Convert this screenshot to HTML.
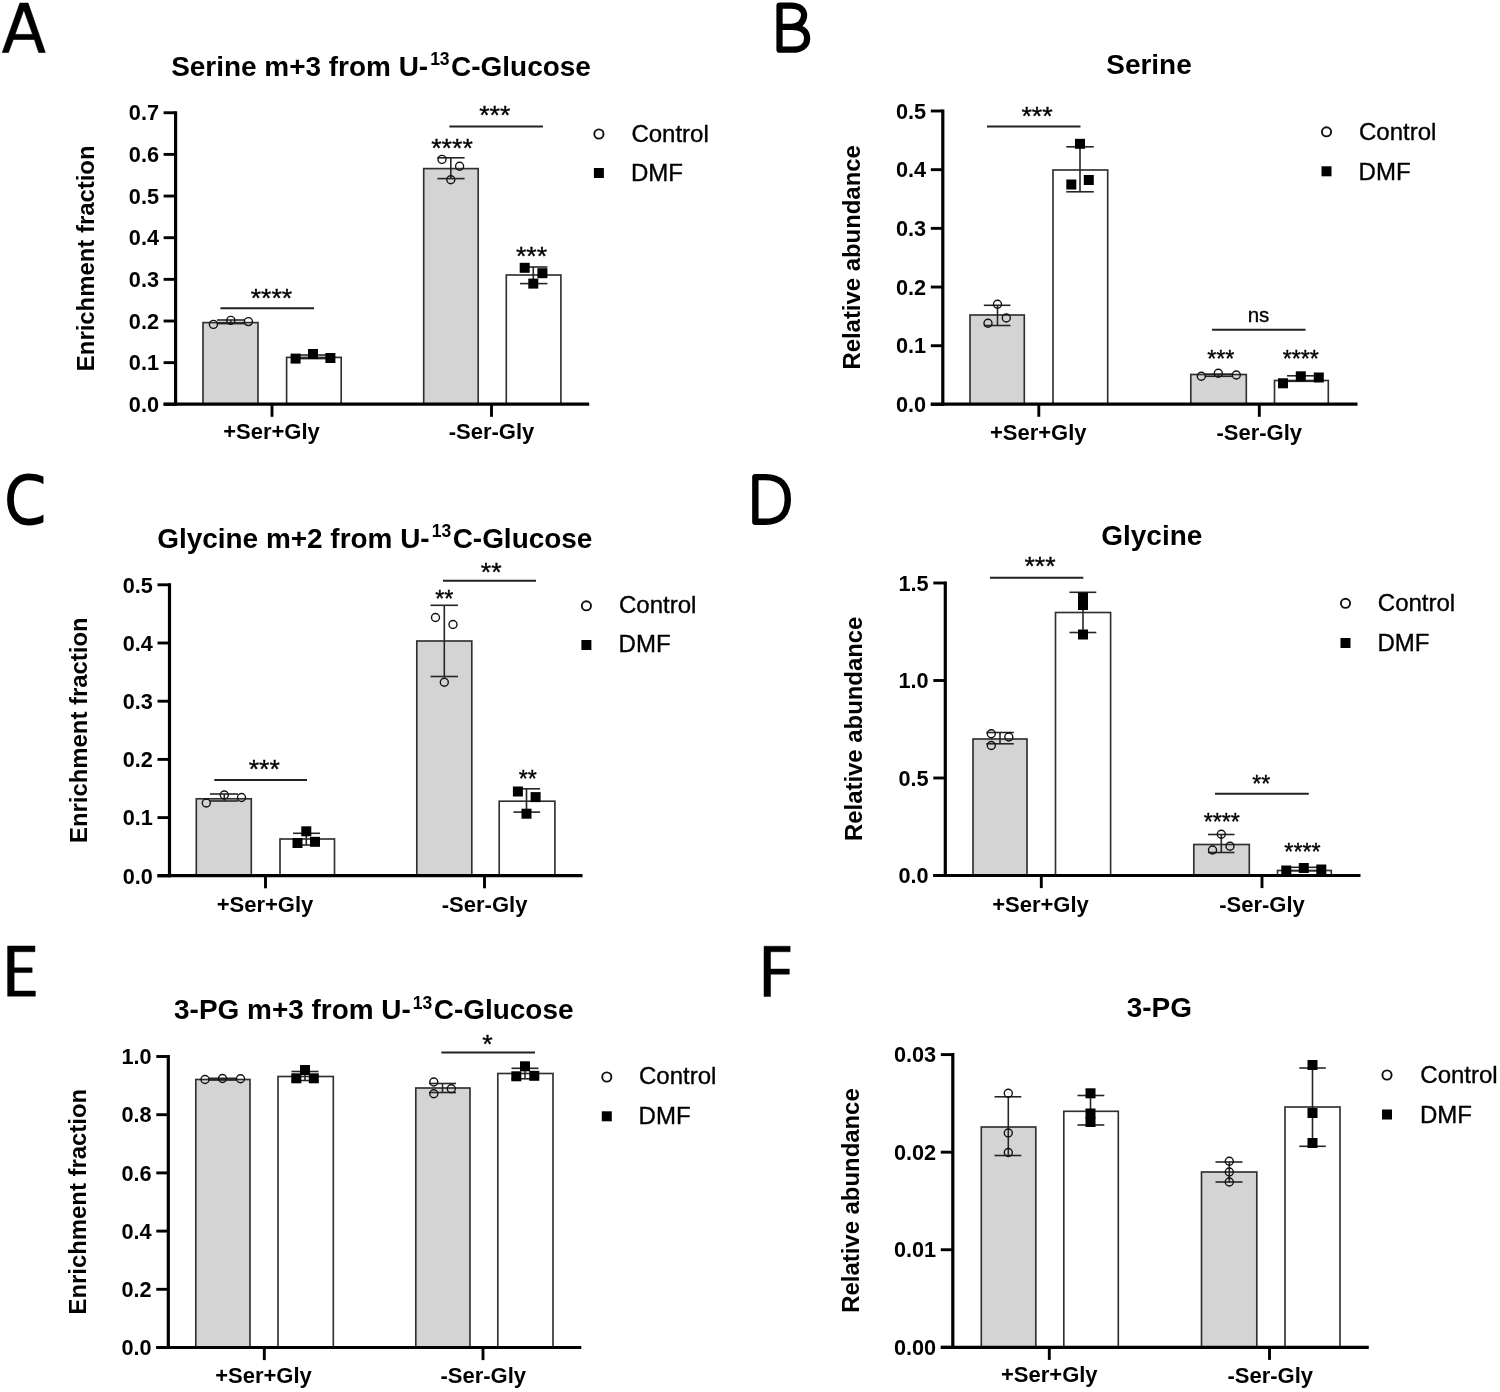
<!DOCTYPE html>
<html><head><meta charset="utf-8"><title>Figure</title>
<style>html,body{margin:0;padding:0;background:#fff;overflow:hidden;}svg{display:block;will-change:transform;filter:grayscale(1) blur(0.45px);}text{font-family:"Liberation Sans",sans-serif;}</style>
</head><body>
<svg width="1500" height="1392" viewBox="0 0 1500 1392">
<rect width="1500" height="1392" fill="#fff"/>
<rect x="203.00" y="322.60" width="55.00" height="81.60" fill="#d4d4d4" stroke="#303030" stroke-width="1.65"/>
<rect x="286.60" y="357.40" width="54.60" height="46.80" fill="#fff" stroke="#303030" stroke-width="1.65"/>
<rect x="423.70" y="168.60" width="54.50" height="235.60" fill="#d4d4d4" stroke="#303030" stroke-width="1.65"/>
<rect x="506.30" y="275.00" width="54.60" height="129.20" fill="#fff" stroke="#303030" stroke-width="1.65"/>
<line x1="175.60" y1="111.15" x2="175.60" y2="405.80" stroke="#000" stroke-width="3.2"/>
<line x1="163.60" y1="404.20" x2="589.20" y2="404.20" stroke="#000" stroke-width="3.2"/>
<line x1="163.60" y1="112.75" x2="175.60" y2="112.75" stroke="#000" stroke-width="2.9"/>
<text x="159.00" y="120.45" font-family="Liberation Sans, sans-serif" font-size="21.7" text-anchor="end" font-weight="bold" fill="#000" >0.7</text>
<line x1="163.60" y1="154.40" x2="175.60" y2="154.40" stroke="#000" stroke-width="2.9"/>
<text x="159.00" y="162.10" font-family="Liberation Sans, sans-serif" font-size="21.7" text-anchor="end" font-weight="bold" fill="#000" >0.6</text>
<line x1="163.60" y1="196.05" x2="175.60" y2="196.05" stroke="#000" stroke-width="2.9"/>
<text x="159.00" y="203.75" font-family="Liberation Sans, sans-serif" font-size="21.7" text-anchor="end" font-weight="bold" fill="#000" >0.5</text>
<line x1="163.60" y1="237.70" x2="175.60" y2="237.70" stroke="#000" stroke-width="2.9"/>
<text x="159.00" y="245.40" font-family="Liberation Sans, sans-serif" font-size="21.7" text-anchor="end" font-weight="bold" fill="#000" >0.4</text>
<line x1="163.60" y1="279.35" x2="175.60" y2="279.35" stroke="#000" stroke-width="2.9"/>
<text x="159.00" y="287.05" font-family="Liberation Sans, sans-serif" font-size="21.7" text-anchor="end" font-weight="bold" fill="#000" >0.3</text>
<line x1="163.60" y1="321.00" x2="175.60" y2="321.00" stroke="#000" stroke-width="2.9"/>
<text x="159.00" y="328.70" font-family="Liberation Sans, sans-serif" font-size="21.7" text-anchor="end" font-weight="bold" fill="#000" >0.2</text>
<line x1="163.60" y1="362.65" x2="175.60" y2="362.65" stroke="#000" stroke-width="2.9"/>
<text x="159.00" y="370.35" font-family="Liberation Sans, sans-serif" font-size="21.7" text-anchor="end" font-weight="bold" fill="#000" >0.1</text>
<line x1="163.60" y1="404.30" x2="175.60" y2="404.30" stroke="#000" stroke-width="2.9"/>
<text x="159.00" y="412.00" font-family="Liberation Sans, sans-serif" font-size="21.7" text-anchor="end" font-weight="bold" fill="#000" >0.0</text>
<line x1="272.00" y1="404.20" x2="272.00" y2="416.80" stroke="#000" stroke-width="2.9"/>
<line x1="491.50" y1="404.20" x2="491.50" y2="416.80" stroke="#000" stroke-width="2.9"/>
<text x="271.50" y="439.40" font-family="Liberation Sans, sans-serif" font-size="22" text-anchor="middle" font-weight="bold" fill="#000" >+Ser+Gly</text>
<text x="491.50" y="439.40" font-family="Liberation Sans, sans-serif" font-size="22" text-anchor="middle" font-weight="bold" fill="#000" >-Ser-Gly</text>
<text transform="translate(93.90 258.30) rotate(-90)" x="0" y="0" font-family="Liberation Sans, sans-serif" font-size="23.9" text-anchor="middle" font-weight="bold" fill="#000">Enrichment fraction</text>
<text x="381.00" y="75.50" font-family="Liberation Sans, sans-serif" font-size="27.95" text-anchor="middle" font-weight="bold" fill="#000" >Serine m+3 from U-<tspan font-size="17.5" dy="-10.5" dx="2">13</tspan><tspan dy="10.5" dx="1.5">C-Glucose</tspan></text>
<line x1="230.80" y1="320.00" x2="230.80" y2="323.60" stroke="#262626" stroke-width="1.6"/>
<line x1="217.00" y1="320.00" x2="245.00" y2="320.00" stroke="#262626" stroke-width="1.6"/>
<line x1="217.00" y1="323.60" x2="245.00" y2="323.60" stroke="#262626" stroke-width="1.6"/>
<line x1="313.00" y1="355.00" x2="313.00" y2="358.60" stroke="#262626" stroke-width="1.6"/>
<line x1="299.50" y1="355.00" x2="327.00" y2="355.00" stroke="#262626" stroke-width="1.6"/>
<line x1="299.50" y1="358.60" x2="327.00" y2="358.60" stroke="#262626" stroke-width="1.6"/>
<line x1="450.80" y1="157.80" x2="450.80" y2="178.60" stroke="#262626" stroke-width="1.6"/>
<line x1="437.40" y1="157.80" x2="464.60" y2="157.80" stroke="#262626" stroke-width="1.6"/>
<line x1="437.40" y1="178.60" x2="464.60" y2="178.60" stroke="#262626" stroke-width="1.6"/>
<line x1="533.30" y1="267.00" x2="533.30" y2="283.60" stroke="#262626" stroke-width="1.6"/>
<line x1="520.00" y1="267.00" x2="547.40" y2="267.00" stroke="#262626" stroke-width="1.6"/>
<line x1="520.00" y1="283.60" x2="547.40" y2="283.60" stroke="#262626" stroke-width="1.6"/>
<circle cx="213.40" cy="324.40" r="4" fill="none" stroke="#111" stroke-width="1.4"/>
<circle cx="230.80" cy="320.40" r="4" fill="none" stroke="#111" stroke-width="1.4"/>
<circle cx="248.40" cy="321.60" r="4" fill="none" stroke="#111" stroke-width="1.4"/>
<circle cx="442.00" cy="159.40" r="4" fill="none" stroke="#111" stroke-width="1.4"/>
<circle cx="459.60" cy="166.20" r="4" fill="none" stroke="#111" stroke-width="1.4"/>
<circle cx="450.80" cy="179.80" r="4" fill="none" stroke="#111" stroke-width="1.4"/>
<rect x="290.60" y="353.60" width="10" height="10" fill="#000"/>
<rect x="308.00" y="349.00" width="10" height="10" fill="#000"/>
<rect x="325.40" y="353.00" width="10" height="10" fill="#000"/>
<rect x="519.70" y="262.80" width="10" height="10" fill="#000"/>
<rect x="537.40" y="268.20" width="10" height="10" fill="#000"/>
<rect x="528.30" y="278.60" width="10" height="10" fill="#000"/>
<line x1="220.40" y1="308.20" x2="314.00" y2="308.20" stroke="#222" stroke-width="2.0"/>
<text x="271.40" y="307.02" font-family="Liberation Sans, sans-serif" font-size="26.7" text-anchor="middle" stroke="#000" stroke-width="0.35" fill="#000" >****</text>
<line x1="449.40" y1="126.50" x2="542.90" y2="126.50" stroke="#222" stroke-width="2.0"/>
<text x="494.80" y="123.62" font-family="Liberation Sans, sans-serif" font-size="26.7" text-anchor="middle" stroke="#000" stroke-width="0.35" fill="#000" >***</text>
<text x="452.00" y="157.02" font-family="Liberation Sans, sans-serif" font-size="26.7" text-anchor="middle" stroke="#000" stroke-width="0.35" fill="#000" >****</text>
<text x="531.50" y="265.42" font-family="Liberation Sans, sans-serif" font-size="26.7" text-anchor="middle" stroke="#000" stroke-width="0.35" fill="#000" >***</text>
<circle cx="598.90" cy="134.00" r="4.6" fill="#fff" stroke="#111" stroke-width="1.9"/>
<rect x="593.90" y="168.00" width="10" height="10" fill="#000"/>
<text x="631.40" y="141.80" font-family="Liberation Sans, sans-serif" font-size="24" text-anchor="start" stroke="#000" stroke-width="0.35" fill="#000" >Control</text>
<text x="631.00" y="180.80" font-family="Liberation Sans, sans-serif" font-size="24" text-anchor="start" stroke="#000" stroke-width="0.35" fill="#000" >DMF</text>
<rect x="970.00" y="315.00" width="54.30" height="89.20" fill="#d4d4d4" stroke="#303030" stroke-width="1.65"/>
<rect x="1053.00" y="170.00" width="54.70" height="234.20" fill="#fff" stroke="#303030" stroke-width="1.65"/>
<rect x="1190.80" y="374.50" width="55.50" height="29.70" fill="#d4d4d4" stroke="#303030" stroke-width="1.65"/>
<rect x="1274.50" y="380.50" width="53.80" height="23.70" fill="#fff" stroke="#303030" stroke-width="1.65"/>
<line x1="942.80" y1="109.40" x2="942.80" y2="405.80" stroke="#000" stroke-width="3.2"/>
<line x1="930.80" y1="404.20" x2="1357.50" y2="404.20" stroke="#000" stroke-width="3.2"/>
<line x1="930.80" y1="111.00" x2="942.80" y2="111.00" stroke="#000" stroke-width="2.9"/>
<text x="926.20" y="118.70" font-family="Liberation Sans, sans-serif" font-size="21.7" text-anchor="end" font-weight="bold" fill="#000" >0.5</text>
<line x1="930.80" y1="169.68" x2="942.80" y2="169.68" stroke="#000" stroke-width="2.9"/>
<text x="926.20" y="177.38" font-family="Liberation Sans, sans-serif" font-size="21.7" text-anchor="end" font-weight="bold" fill="#000" >0.4</text>
<line x1="930.80" y1="228.36" x2="942.80" y2="228.36" stroke="#000" stroke-width="2.9"/>
<text x="926.20" y="236.06" font-family="Liberation Sans, sans-serif" font-size="21.7" text-anchor="end" font-weight="bold" fill="#000" >0.3</text>
<line x1="930.80" y1="287.04" x2="942.80" y2="287.04" stroke="#000" stroke-width="2.9"/>
<text x="926.20" y="294.74" font-family="Liberation Sans, sans-serif" font-size="21.7" text-anchor="end" font-weight="bold" fill="#000" >0.2</text>
<line x1="930.80" y1="345.72" x2="942.80" y2="345.72" stroke="#000" stroke-width="2.9"/>
<text x="926.20" y="353.42" font-family="Liberation Sans, sans-serif" font-size="21.7" text-anchor="end" font-weight="bold" fill="#000" >0.1</text>
<line x1="930.80" y1="404.40" x2="942.80" y2="404.40" stroke="#000" stroke-width="2.9"/>
<text x="926.20" y="412.10" font-family="Liberation Sans, sans-serif" font-size="21.7" text-anchor="end" font-weight="bold" fill="#000" >0.0</text>
<line x1="1038.80" y1="404.20" x2="1038.80" y2="416.80" stroke="#000" stroke-width="2.9"/>
<line x1="1259.30" y1="404.20" x2="1259.30" y2="416.80" stroke="#000" stroke-width="2.9"/>
<text x="1038.20" y="439.70" font-family="Liberation Sans, sans-serif" font-size="22" text-anchor="middle" font-weight="bold" fill="#000" >+Ser+Gly</text>
<text x="1259.20" y="439.90" font-family="Liberation Sans, sans-serif" font-size="22" text-anchor="middle" font-weight="bold" fill="#000" >-Ser-Gly</text>
<text transform="translate(859.50 257.40) rotate(-90)" x="0" y="0" font-family="Liberation Sans, sans-serif" font-size="23.9" text-anchor="middle" font-weight="bold" fill="#000">Relative abundance</text>
<text x="1149.00" y="73.70" font-family="Liberation Sans, sans-serif" font-size="27.95" text-anchor="middle" font-weight="bold" fill="#000" >Serine</text>
<line x1="997.50" y1="305.30" x2="997.50" y2="325.50" stroke="#262626" stroke-width="1.6"/>
<line x1="983.80" y1="305.30" x2="1010.50" y2="305.30" stroke="#262626" stroke-width="1.6"/>
<line x1="983.80" y1="325.50" x2="1010.50" y2="325.50" stroke="#262626" stroke-width="1.6"/>
<line x1="1080.00" y1="146.80" x2="1080.00" y2="191.80" stroke="#262626" stroke-width="1.6"/>
<line x1="1066.30" y1="146.80" x2="1093.80" y2="146.80" stroke="#262626" stroke-width="1.6"/>
<line x1="1066.30" y1="191.80" x2="1093.80" y2="191.80" stroke="#262626" stroke-width="1.6"/>
<line x1="1218.30" y1="374.20" x2="1218.30" y2="376.30" stroke="#262626" stroke-width="1.6"/>
<line x1="1205.00" y1="374.20" x2="1232.00" y2="374.20" stroke="#262626" stroke-width="1.6"/>
<line x1="1205.00" y1="376.30" x2="1232.00" y2="376.30" stroke="#262626" stroke-width="1.6"/>
<line x1="1300.80" y1="375.80" x2="1300.80" y2="381.30" stroke="#262626" stroke-width="1.6"/>
<line x1="1287.00" y1="375.80" x2="1314.50" y2="375.80" stroke="#262626" stroke-width="1.6"/>
<line x1="1287.00" y1="381.30" x2="1314.50" y2="381.30" stroke="#262626" stroke-width="1.6"/>
<circle cx="997.50" cy="304.30" r="4" fill="none" stroke="#111" stroke-width="1.4"/>
<circle cx="1006.30" cy="318.00" r="4" fill="none" stroke="#111" stroke-width="1.4"/>
<circle cx="988.00" cy="323.30" r="4" fill="none" stroke="#111" stroke-width="1.4"/>
<circle cx="1201.30" cy="376.30" r="4" fill="none" stroke="#111" stroke-width="1.4"/>
<circle cx="1218.30" cy="373.30" r="4" fill="none" stroke="#111" stroke-width="1.4"/>
<circle cx="1236.30" cy="375.00" r="4" fill="none" stroke="#111" stroke-width="1.4"/>
<rect x="1075.00" y="138.80" width="10" height="10" fill="#000"/>
<rect x="1066.30" y="179.50" width="10" height="10" fill="#000"/>
<rect x="1083.80" y="175.00" width="10" height="10" fill="#000"/>
<rect x="1278.00" y="378.30" width="10" height="10" fill="#000"/>
<rect x="1295.80" y="371.30" width="10" height="10" fill="#000"/>
<rect x="1313.80" y="372.50" width="10" height="10" fill="#000"/>
<line x1="987.00" y1="126.50" x2="1080.50" y2="126.50" stroke="#222" stroke-width="2.0"/>
<text x="1037.00" y="124.62" font-family="Liberation Sans, sans-serif" font-size="26.7" text-anchor="middle" stroke="#000" stroke-width="0.35" fill="#000" >***</text>
<line x1="1212.00" y1="329.80" x2="1305.50" y2="329.80" stroke="#222" stroke-width="2.0"/>
<text x="1258.50" y="322.00" font-family="Liberation Sans, sans-serif" font-size="20.5" text-anchor="middle" stroke="#000" stroke-width="0.35" fill="#000" >ns</text>
<text x="1220.80" y="366.53" font-family="Liberation Sans, sans-serif" font-size="23.3" text-anchor="middle" stroke="#000" stroke-width="0.35" fill="#000" >***</text>
<text x="1300.80" y="366.53" font-family="Liberation Sans, sans-serif" font-size="23.3" text-anchor="middle" stroke="#000" stroke-width="0.35" fill="#000" >****</text>
<circle cx="1326.50" cy="131.80" r="4.6" fill="#fff" stroke="#111" stroke-width="1.9"/>
<rect x="1321.50" y="166.30" width="10" height="10" fill="#000"/>
<text x="1359.00" y="139.90" font-family="Liberation Sans, sans-serif" font-size="24" text-anchor="start" stroke="#000" stroke-width="0.35" fill="#000" >Control</text>
<text x="1358.60" y="179.90" font-family="Liberation Sans, sans-serif" font-size="24" text-anchor="start" stroke="#000" stroke-width="0.35" fill="#000" >DMF</text>
<rect x="196.30" y="798.80" width="55.00" height="76.90" fill="#d4d4d4" stroke="#303030" stroke-width="1.65"/>
<rect x="280.00" y="839.00" width="54.50" height="36.70" fill="#fff" stroke="#303030" stroke-width="1.65"/>
<rect x="416.80" y="641.00" width="55.00" height="234.70" fill="#d4d4d4" stroke="#303030" stroke-width="1.65"/>
<rect x="499.20" y="801.20" width="55.70" height="74.50" fill="#fff" stroke="#303030" stroke-width="1.65"/>
<line x1="169.50" y1="583.20" x2="169.50" y2="877.30" stroke="#000" stroke-width="3.2"/>
<line x1="157.50" y1="875.70" x2="582.50" y2="875.70" stroke="#000" stroke-width="3.2"/>
<line x1="157.50" y1="584.80" x2="169.50" y2="584.80" stroke="#000" stroke-width="2.9"/>
<text x="152.90" y="592.50" font-family="Liberation Sans, sans-serif" font-size="21.7" text-anchor="end" font-weight="bold" fill="#000" >0.5</text>
<line x1="157.50" y1="643.00" x2="169.50" y2="643.00" stroke="#000" stroke-width="2.9"/>
<text x="152.90" y="650.70" font-family="Liberation Sans, sans-serif" font-size="21.7" text-anchor="end" font-weight="bold" fill="#000" >0.4</text>
<line x1="157.50" y1="701.20" x2="169.50" y2="701.20" stroke="#000" stroke-width="2.9"/>
<text x="152.90" y="708.90" font-family="Liberation Sans, sans-serif" font-size="21.7" text-anchor="end" font-weight="bold" fill="#000" >0.3</text>
<line x1="157.50" y1="759.40" x2="169.50" y2="759.40" stroke="#000" stroke-width="2.9"/>
<text x="152.90" y="767.10" font-family="Liberation Sans, sans-serif" font-size="21.7" text-anchor="end" font-weight="bold" fill="#000" >0.2</text>
<line x1="157.50" y1="817.60" x2="169.50" y2="817.60" stroke="#000" stroke-width="2.9"/>
<text x="152.90" y="825.30" font-family="Liberation Sans, sans-serif" font-size="21.7" text-anchor="end" font-weight="bold" fill="#000" >0.1</text>
<line x1="157.50" y1="875.80" x2="169.50" y2="875.80" stroke="#000" stroke-width="2.9"/>
<text x="152.90" y="883.50" font-family="Liberation Sans, sans-serif" font-size="21.7" text-anchor="end" font-weight="bold" fill="#000" >0.0</text>
<line x1="265.50" y1="875.70" x2="265.50" y2="888.30" stroke="#000" stroke-width="2.9"/>
<line x1="484.50" y1="875.70" x2="484.50" y2="888.30" stroke="#000" stroke-width="2.9"/>
<text x="265.00" y="911.70" font-family="Liberation Sans, sans-serif" font-size="22" text-anchor="middle" font-weight="bold" fill="#000" >+Ser+Gly</text>
<text x="484.60" y="912.20" font-family="Liberation Sans, sans-serif" font-size="22" text-anchor="middle" font-weight="bold" fill="#000" >-Ser-Gly</text>
<text transform="translate(86.70 730.20) rotate(-90)" x="0" y="0" font-family="Liberation Sans, sans-serif" font-size="23.9" text-anchor="middle" font-weight="bold" fill="#000">Enrichment fraction</text>
<text x="374.80" y="547.70" font-family="Liberation Sans, sans-serif" font-size="27.95" text-anchor="middle" font-weight="bold" fill="#000" >Glycine m+2 from U-<tspan font-size="17.5" dy="-10.5" dx="2">13</tspan><tspan dy="10.5" dx="1.5">C-Glucose</tspan></text>
<line x1="224.30" y1="794.00" x2="224.30" y2="801.00" stroke="#262626" stroke-width="1.6"/>
<line x1="210.00" y1="794.00" x2="238.00" y2="794.00" stroke="#262626" stroke-width="1.6"/>
<line x1="210.00" y1="801.00" x2="238.00" y2="801.00" stroke="#262626" stroke-width="1.6"/>
<line x1="306.30" y1="833.30" x2="306.30" y2="845.00" stroke="#262626" stroke-width="1.6"/>
<line x1="293.00" y1="833.30" x2="320.00" y2="833.30" stroke="#262626" stroke-width="1.6"/>
<line x1="293.00" y1="845.00" x2="320.00" y2="845.00" stroke="#262626" stroke-width="1.6"/>
<line x1="444.30" y1="605.30" x2="444.30" y2="676.50" stroke="#262626" stroke-width="1.6"/>
<line x1="430.50" y1="605.30" x2="458.00" y2="605.30" stroke="#262626" stroke-width="1.6"/>
<line x1="430.50" y1="676.50" x2="458.00" y2="676.50" stroke="#262626" stroke-width="1.6"/>
<line x1="526.50" y1="788.80" x2="526.50" y2="812.10" stroke="#262626" stroke-width="1.6"/>
<line x1="513.40" y1="788.80" x2="540.10" y2="788.80" stroke="#262626" stroke-width="1.6"/>
<line x1="513.40" y1="812.10" x2="540.10" y2="812.10" stroke="#262626" stroke-width="1.6"/>
<circle cx="206.30" cy="803.00" r="4" fill="none" stroke="#111" stroke-width="1.4"/>
<circle cx="224.30" cy="795.00" r="4" fill="none" stroke="#111" stroke-width="1.4"/>
<circle cx="241.50" cy="797.50" r="4" fill="none" stroke="#111" stroke-width="1.4"/>
<circle cx="435.50" cy="617.50" r="4" fill="none" stroke="#111" stroke-width="1.4"/>
<circle cx="453.00" cy="624.50" r="4" fill="none" stroke="#111" stroke-width="1.4"/>
<circle cx="444.30" cy="682.30" r="4" fill="none" stroke="#111" stroke-width="1.4"/>
<rect x="301.30" y="826.30" width="10" height="10" fill="#000"/>
<rect x="292.50" y="838.00" width="10" height="10" fill="#000"/>
<rect x="310.00" y="836.80" width="10" height="10" fill="#000"/>
<rect x="512.90" y="786.50" width="10" height="10" fill="#000"/>
<rect x="530.60" y="792.10" width="10" height="10" fill="#000"/>
<rect x="521.50" y="808.70" width="10" height="10" fill="#000"/>
<line x1="214.30" y1="780.00" x2="307.00" y2="780.00" stroke="#222" stroke-width="2.0"/>
<text x="264.30" y="778.42" font-family="Liberation Sans, sans-serif" font-size="26.7" text-anchor="middle" stroke="#000" stroke-width="0.35" fill="#000" >***</text>
<line x1="443.00" y1="580.80" x2="536.00" y2="580.80" stroke="#222" stroke-width="2.0"/>
<text x="491.20" y="580.62" font-family="Liberation Sans, sans-serif" font-size="26.7" text-anchor="middle" stroke="#000" stroke-width="0.35" fill="#000" >**</text>
<text x="444.30" y="607.03" font-family="Liberation Sans, sans-serif" font-size="23.3" text-anchor="middle" stroke="#000" stroke-width="0.35" fill="#000" >**</text>
<text x="527.70" y="787.13" font-family="Liberation Sans, sans-serif" font-size="23.3" text-anchor="middle" stroke="#000" stroke-width="0.35" fill="#000" >**</text>
<circle cx="586.40" cy="605.80" r="4.6" fill="#fff" stroke="#111" stroke-width="1.9"/>
<rect x="581.40" y="640.00" width="10" height="10" fill="#000"/>
<text x="619.00" y="613.10" font-family="Liberation Sans, sans-serif" font-size="24" text-anchor="start" stroke="#000" stroke-width="0.35" fill="#000" >Control</text>
<text x="618.60" y="652.40" font-family="Liberation Sans, sans-serif" font-size="24" text-anchor="start" stroke="#000" stroke-width="0.35" fill="#000" >DMF</text>
<rect x="973.00" y="739.00" width="54.00" height="136.50" fill="#d4d4d4" stroke="#303030" stroke-width="1.65"/>
<rect x="1055.50" y="612.50" width="55.10" height="263.00" fill="#fff" stroke="#303030" stroke-width="1.65"/>
<rect x="1193.80" y="844.50" width="55.50" height="31.00" fill="#d4d4d4" stroke="#303030" stroke-width="1.65"/>
<rect x="1277.50" y="870.50" width="53.80" height="5.00" fill="#fff" stroke="#303030" stroke-width="1.65"/>
<line x1="945.30" y1="581.40" x2="945.30" y2="877.10" stroke="#000" stroke-width="3.2"/>
<line x1="933.30" y1="875.50" x2="1360.50" y2="875.50" stroke="#000" stroke-width="3.2"/>
<line x1="933.30" y1="583.00" x2="945.30" y2="583.00" stroke="#000" stroke-width="2.9"/>
<text x="928.70" y="590.70" font-family="Liberation Sans, sans-serif" font-size="21.7" text-anchor="end" font-weight="bold" fill="#000" >1.5</text>
<line x1="933.30" y1="680.50" x2="945.30" y2="680.50" stroke="#000" stroke-width="2.9"/>
<text x="928.70" y="688.20" font-family="Liberation Sans, sans-serif" font-size="21.7" text-anchor="end" font-weight="bold" fill="#000" >1.0</text>
<line x1="933.30" y1="778.00" x2="945.30" y2="778.00" stroke="#000" stroke-width="2.9"/>
<text x="928.70" y="785.70" font-family="Liberation Sans, sans-serif" font-size="21.7" text-anchor="end" font-weight="bold" fill="#000" >0.5</text>
<line x1="933.30" y1="875.50" x2="945.30" y2="875.50" stroke="#000" stroke-width="2.9"/>
<text x="928.70" y="883.20" font-family="Liberation Sans, sans-serif" font-size="21.7" text-anchor="end" font-weight="bold" fill="#000" >0.0</text>
<line x1="1041.30" y1="875.50" x2="1041.30" y2="888.10" stroke="#000" stroke-width="2.9"/>
<line x1="1262.00" y1="875.50" x2="1262.00" y2="888.10" stroke="#000" stroke-width="2.9"/>
<text x="1040.50" y="911.70" font-family="Liberation Sans, sans-serif" font-size="22" text-anchor="middle" font-weight="bold" fill="#000" >+Ser+Gly</text>
<text x="1262.00" y="912.20" font-family="Liberation Sans, sans-serif" font-size="22" text-anchor="middle" font-weight="bold" fill="#000" >-Ser-Gly</text>
<text transform="translate(862.30 728.80) rotate(-90)" x="0" y="0" font-family="Liberation Sans, sans-serif" font-size="23.9" text-anchor="middle" font-weight="bold" fill="#000">Relative abundance</text>
<text x="1151.80" y="545.00" font-family="Liberation Sans, sans-serif" font-size="27.95" text-anchor="middle" font-weight="bold" fill="#000" >Glycine</text>
<line x1="1000.00" y1="732.50" x2="1000.00" y2="743.80" stroke="#262626" stroke-width="1.6"/>
<line x1="986.30" y1="732.50" x2="1013.80" y2="732.50" stroke="#262626" stroke-width="1.6"/>
<line x1="986.30" y1="743.80" x2="1013.80" y2="743.80" stroke="#262626" stroke-width="1.6"/>
<line x1="1083.00" y1="592.30" x2="1083.00" y2="632.50" stroke="#262626" stroke-width="1.6"/>
<line x1="1069.50" y1="592.30" x2="1096.30" y2="592.30" stroke="#262626" stroke-width="1.6"/>
<line x1="1069.50" y1="632.50" x2="1096.30" y2="632.50" stroke="#262626" stroke-width="1.6"/>
<line x1="1221.30" y1="834.50" x2="1221.30" y2="852.50" stroke="#262626" stroke-width="1.6"/>
<line x1="1208.00" y1="834.50" x2="1234.50" y2="834.50" stroke="#262626" stroke-width="1.6"/>
<line x1="1208.00" y1="852.50" x2="1234.50" y2="852.50" stroke="#262626" stroke-width="1.6"/>
<line x1="1303.80" y1="867.30" x2="1303.80" y2="870.80" stroke="#262626" stroke-width="1.6"/>
<line x1="1290.00" y1="867.30" x2="1317.50" y2="867.30" stroke="#262626" stroke-width="1.6"/>
<line x1="1290.00" y1="870.80" x2="1317.50" y2="870.80" stroke="#262626" stroke-width="1.6"/>
<circle cx="991.30" cy="733.80" r="4" fill="none" stroke="#111" stroke-width="1.4"/>
<circle cx="991.30" cy="745.50" r="4" fill="none" stroke="#111" stroke-width="1.4"/>
<circle cx="1008.80" cy="737.00" r="4" fill="none" stroke="#111" stroke-width="1.4"/>
<circle cx="1221.30" cy="834.30" r="4" fill="none" stroke="#111" stroke-width="1.4"/>
<circle cx="1230.00" cy="846.30" r="4" fill="none" stroke="#111" stroke-width="1.4"/>
<circle cx="1212.50" cy="850.00" r="4" fill="none" stroke="#111" stroke-width="1.4"/>
<rect x="1078.00" y="592.50" width="10" height="10" fill="#000"/>
<rect x="1078.00" y="600.00" width="10" height="10" fill="#000"/>
<rect x="1078.00" y="629.50" width="10" height="10" fill="#000"/>
<rect x="1281.30" y="865.50" width="10" height="10" fill="#000"/>
<rect x="1298.80" y="863.00" width="10" height="10" fill="#000"/>
<rect x="1316.30" y="864.50" width="10" height="10" fill="#000"/>
<line x1="990.00" y1="577.80" x2="1083.30" y2="577.80" stroke="#222" stroke-width="2.0"/>
<text x="1040.00" y="575.12" font-family="Liberation Sans, sans-serif" font-size="26.7" text-anchor="middle" stroke="#000" stroke-width="0.35" fill="#000" >***</text>
<line x1="1215.00" y1="793.80" x2="1308.80" y2="793.80" stroke="#222" stroke-width="2.0"/>
<text x="1261.30" y="792.33" font-family="Liberation Sans, sans-serif" font-size="23.3" text-anchor="middle" stroke="#000" stroke-width="0.35" fill="#000" >**</text>
<text x="1221.80" y="830.33" font-family="Liberation Sans, sans-serif" font-size="23.3" text-anchor="middle" stroke="#000" stroke-width="0.35" fill="#000" >****</text>
<text x="1302.50" y="859.83" font-family="Liberation Sans, sans-serif" font-size="23.3" text-anchor="middle" stroke="#000" stroke-width="0.35" fill="#000" >****</text>
<circle cx="1345.50" cy="603.30" r="4.6" fill="#fff" stroke="#111" stroke-width="1.9"/>
<rect x="1340.50" y="638.00" width="10" height="10" fill="#000"/>
<text x="1377.80" y="611.20" font-family="Liberation Sans, sans-serif" font-size="24" text-anchor="start" stroke="#000" stroke-width="0.35" fill="#000" >Control</text>
<text x="1377.40" y="651.20" font-family="Liberation Sans, sans-serif" font-size="24" text-anchor="start" stroke="#000" stroke-width="0.35" fill="#000" >DMF</text>
<rect x="195.80" y="1079.50" width="54.20" height="268.00" fill="#d4d4d4" stroke="#303030" stroke-width="1.65"/>
<rect x="278.00" y="1076.50" width="55.30" height="271.00" fill="#fff" stroke="#303030" stroke-width="1.65"/>
<rect x="415.80" y="1088.00" width="54.20" height="259.50" fill="#d4d4d4" stroke="#303030" stroke-width="1.65"/>
<rect x="497.80" y="1073.50" width="55.20" height="274.00" fill="#fff" stroke="#303030" stroke-width="1.65"/>
<line x1="168.30" y1="1054.90" x2="168.30" y2="1349.10" stroke="#000" stroke-width="3.2"/>
<line x1="156.30" y1="1347.50" x2="581.30" y2="1347.50" stroke="#000" stroke-width="3.2"/>
<line x1="156.30" y1="1056.50" x2="168.30" y2="1056.50" stroke="#000" stroke-width="2.9"/>
<text x="151.70" y="1064.20" font-family="Liberation Sans, sans-serif" font-size="21.7" text-anchor="end" font-weight="bold" fill="#000" >1.0</text>
<line x1="156.30" y1="1114.70" x2="168.30" y2="1114.70" stroke="#000" stroke-width="2.9"/>
<text x="151.70" y="1122.40" font-family="Liberation Sans, sans-serif" font-size="21.7" text-anchor="end" font-weight="bold" fill="#000" >0.8</text>
<line x1="156.30" y1="1172.90" x2="168.30" y2="1172.90" stroke="#000" stroke-width="2.9"/>
<text x="151.70" y="1180.60" font-family="Liberation Sans, sans-serif" font-size="21.7" text-anchor="end" font-weight="bold" fill="#000" >0.6</text>
<line x1="156.30" y1="1231.10" x2="168.30" y2="1231.10" stroke="#000" stroke-width="2.9"/>
<text x="151.70" y="1238.80" font-family="Liberation Sans, sans-serif" font-size="21.7" text-anchor="end" font-weight="bold" fill="#000" >0.4</text>
<line x1="156.30" y1="1289.30" x2="168.30" y2="1289.30" stroke="#000" stroke-width="2.9"/>
<text x="151.70" y="1297.00" font-family="Liberation Sans, sans-serif" font-size="21.7" text-anchor="end" font-weight="bold" fill="#000" >0.2</text>
<line x1="156.30" y1="1347.50" x2="168.30" y2="1347.50" stroke="#000" stroke-width="2.9"/>
<text x="151.70" y="1355.20" font-family="Liberation Sans, sans-serif" font-size="21.7" text-anchor="end" font-weight="bold" fill="#000" >0.0</text>
<line x1="264.30" y1="1347.50" x2="264.30" y2="1360.10" stroke="#000" stroke-width="2.9"/>
<line x1="483.00" y1="1347.50" x2="483.00" y2="1360.10" stroke="#000" stroke-width="2.9"/>
<text x="263.50" y="1382.90" font-family="Liberation Sans, sans-serif" font-size="22" text-anchor="middle" font-weight="bold" fill="#000" >+Ser+Gly</text>
<text x="483.20" y="1382.90" font-family="Liberation Sans, sans-serif" font-size="22" text-anchor="middle" font-weight="bold" fill="#000" >-Ser-Gly</text>
<text transform="translate(86.30 1201.70) rotate(-90)" x="0" y="0" font-family="Liberation Sans, sans-serif" font-size="23.9" text-anchor="middle" font-weight="bold" fill="#000">Enrichment fraction</text>
<text x="373.80" y="1019.00" font-family="Liberation Sans, sans-serif" font-size="27.95" text-anchor="middle" font-weight="bold" fill="#000" >3-PG m+3 from U-<tspan font-size="17.5" dy="-10.5" dx="2">13</tspan><tspan dy="10.5" dx="1.5">C-Glucose</tspan></text>
<line x1="222.50" y1="1078.30" x2="222.50" y2="1080.00" stroke="#262626" stroke-width="1.6"/>
<line x1="209.00" y1="1078.30" x2="236.00" y2="1078.30" stroke="#262626" stroke-width="1.6"/>
<line x1="209.00" y1="1080.00" x2="236.00" y2="1080.00" stroke="#262626" stroke-width="1.6"/>
<line x1="305.00" y1="1071.50" x2="305.00" y2="1080.50" stroke="#262626" stroke-width="1.6"/>
<line x1="291.50" y1="1071.50" x2="318.50" y2="1071.50" stroke="#262626" stroke-width="1.6"/>
<line x1="291.50" y1="1080.50" x2="318.50" y2="1080.50" stroke="#262626" stroke-width="1.6"/>
<line x1="442.50" y1="1083.50" x2="442.50" y2="1092.50" stroke="#262626" stroke-width="1.6"/>
<line x1="429.00" y1="1083.50" x2="456.00" y2="1083.50" stroke="#262626" stroke-width="1.6"/>
<line x1="429.00" y1="1092.50" x2="456.00" y2="1092.50" stroke="#262626" stroke-width="1.6"/>
<line x1="525.00" y1="1068.30" x2="525.00" y2="1078.80" stroke="#262626" stroke-width="1.6"/>
<line x1="511.50" y1="1068.30" x2="538.50" y2="1068.30" stroke="#262626" stroke-width="1.6"/>
<line x1="511.50" y1="1078.80" x2="538.50" y2="1078.80" stroke="#262626" stroke-width="1.6"/>
<circle cx="205.00" cy="1079.50" r="4" fill="none" stroke="#111" stroke-width="1.4"/>
<circle cx="222.50" cy="1078.50" r="4" fill="none" stroke="#111" stroke-width="1.4"/>
<circle cx="240.50" cy="1078.80" r="4" fill="none" stroke="#111" stroke-width="1.4"/>
<circle cx="433.80" cy="1082.00" r="4" fill="none" stroke="#111" stroke-width="1.4"/>
<circle cx="433.80" cy="1093.80" r="4" fill="none" stroke="#111" stroke-width="1.4"/>
<circle cx="451.30" cy="1088.80" r="4" fill="none" stroke="#111" stroke-width="1.4"/>
<rect x="291.30" y="1073.30" width="10" height="10" fill="#000"/>
<rect x="300.00" y="1065.00" width="10" height="10" fill="#000"/>
<rect x="308.80" y="1073.30" width="10" height="10" fill="#000"/>
<rect x="520.00" y="1061.30" width="10" height="10" fill="#000"/>
<rect x="511.30" y="1071.30" width="10" height="10" fill="#000"/>
<rect x="529.30" y="1070.80" width="10" height="10" fill="#000"/>
<line x1="441.30" y1="1052.50" x2="535.00" y2="1052.50" stroke="#222" stroke-width="2.0"/>
<text x="487.50" y="1053.12" font-family="Liberation Sans, sans-serif" font-size="26.7" text-anchor="middle" stroke="#000" stroke-width="0.35" fill="#000" >*</text>
<circle cx="606.80" cy="1077.00" r="4.6" fill="#fff" stroke="#111" stroke-width="1.9"/>
<rect x="601.80" y="1111.30" width="10" height="10" fill="#000"/>
<text x="639.00" y="1084.40" font-family="Liberation Sans, sans-serif" font-size="24" text-anchor="start" stroke="#000" stroke-width="0.35" fill="#000" >Control</text>
<text x="638.60" y="1124.40" font-family="Liberation Sans, sans-serif" font-size="24" text-anchor="start" stroke="#000" stroke-width="0.35" fill="#000" >DMF</text>
<rect x="981.30" y="1127.00" width="54.50" height="220.30" fill="#d4d4d4" stroke="#303030" stroke-width="1.65"/>
<rect x="1063.80" y="1111.30" width="54.50" height="236.00" fill="#fff" stroke="#303030" stroke-width="1.65"/>
<rect x="1201.50" y="1172.00" width="55.30" height="175.30" fill="#d4d4d4" stroke="#303030" stroke-width="1.65"/>
<rect x="1285.00" y="1107.00" width="55.00" height="240.30" fill="#fff" stroke="#303030" stroke-width="1.65"/>
<line x1="952.80" y1="1053.00" x2="952.80" y2="1348.90" stroke="#000" stroke-width="3.2"/>
<line x1="940.80" y1="1347.30" x2="1368.80" y2="1347.30" stroke="#000" stroke-width="3.2"/>
<line x1="940.80" y1="1054.60" x2="952.80" y2="1054.60" stroke="#000" stroke-width="2.9"/>
<text x="936.20" y="1062.30" font-family="Liberation Sans, sans-serif" font-size="21.7" text-anchor="end" font-weight="bold" fill="#000" >0.03</text>
<line x1="940.80" y1="1152.17" x2="952.80" y2="1152.17" stroke="#000" stroke-width="2.9"/>
<text x="936.20" y="1159.87" font-family="Liberation Sans, sans-serif" font-size="21.7" text-anchor="end" font-weight="bold" fill="#000" >0.02</text>
<line x1="940.80" y1="1249.74" x2="952.80" y2="1249.74" stroke="#000" stroke-width="2.9"/>
<text x="936.20" y="1257.44" font-family="Liberation Sans, sans-serif" font-size="21.7" text-anchor="end" font-weight="bold" fill="#000" >0.01</text>
<line x1="940.80" y1="1347.31" x2="952.80" y2="1347.31" stroke="#000" stroke-width="2.9"/>
<text x="936.20" y="1355.01" font-family="Liberation Sans, sans-serif" font-size="21.7" text-anchor="end" font-weight="bold" fill="#000" >0.00</text>
<line x1="1049.30" y1="1347.30" x2="1049.30" y2="1359.90" stroke="#000" stroke-width="2.9"/>
<line x1="1269.50" y1="1347.30" x2="1269.50" y2="1359.90" stroke="#000" stroke-width="2.9"/>
<text x="1049.30" y="1382.40" font-family="Liberation Sans, sans-serif" font-size="22" text-anchor="middle" font-weight="bold" fill="#000" >+Ser+Gly</text>
<text x="1270.20" y="1382.90" font-family="Liberation Sans, sans-serif" font-size="22" text-anchor="middle" font-weight="bold" fill="#000" >-Ser-Gly</text>
<text transform="translate(859.30 1200.50) rotate(-90)" x="0" y="0" font-family="Liberation Sans, sans-serif" font-size="23.9" text-anchor="middle" font-weight="bold" fill="#000">Relative abundance</text>
<text x="1159.40" y="1016.80" font-family="Liberation Sans, sans-serif" font-size="27.95" text-anchor="middle" font-weight="bold" fill="#000" >3-PG</text>
<line x1="1008.30" y1="1096.80" x2="1008.30" y2="1155.50" stroke="#262626" stroke-width="1.6"/>
<line x1="994.50" y1="1096.80" x2="1021.30" y2="1096.80" stroke="#262626" stroke-width="1.6"/>
<line x1="994.50" y1="1155.50" x2="1021.30" y2="1155.50" stroke="#262626" stroke-width="1.6"/>
<line x1="1090.50" y1="1095.50" x2="1090.50" y2="1125.00" stroke="#262626" stroke-width="1.6"/>
<line x1="1077.50" y1="1095.50" x2="1104.30" y2="1095.50" stroke="#262626" stroke-width="1.6"/>
<line x1="1077.50" y1="1125.00" x2="1104.30" y2="1125.00" stroke="#262626" stroke-width="1.6"/>
<line x1="1229.30" y1="1162.00" x2="1229.30" y2="1182.00" stroke="#262626" stroke-width="1.6"/>
<line x1="1215.50" y1="1162.00" x2="1242.50" y2="1162.00" stroke="#262626" stroke-width="1.6"/>
<line x1="1215.50" y1="1182.00" x2="1242.50" y2="1182.00" stroke="#262626" stroke-width="1.6"/>
<line x1="1312.50" y1="1068.00" x2="1312.50" y2="1146.30" stroke="#262626" stroke-width="1.6"/>
<line x1="1299.30" y1="1068.00" x2="1325.80" y2="1068.00" stroke="#262626" stroke-width="1.6"/>
<line x1="1299.30" y1="1146.30" x2="1325.80" y2="1146.30" stroke="#262626" stroke-width="1.6"/>
<circle cx="1008.30" cy="1093.30" r="4" fill="none" stroke="#111" stroke-width="1.4"/>
<circle cx="1008.30" cy="1133.00" r="4" fill="none" stroke="#111" stroke-width="1.4"/>
<circle cx="1008.30" cy="1152.50" r="4" fill="none" stroke="#111" stroke-width="1.4"/>
<circle cx="1229.30" cy="1161.30" r="4" fill="none" stroke="#111" stroke-width="1.4"/>
<circle cx="1229.30" cy="1172.00" r="4" fill="none" stroke="#111" stroke-width="1.4"/>
<circle cx="1229.30" cy="1182.00" r="4" fill="none" stroke="#111" stroke-width="1.4"/>
<rect x="1085.50" y="1088.30" width="10" height="10" fill="#000"/>
<rect x="1085.50" y="1108.50" width="10" height="10" fill="#000"/>
<rect x="1085.50" y="1117.00" width="10" height="10" fill="#000"/>
<rect x="1307.50" y="1060.00" width="10" height="10" fill="#000"/>
<rect x="1307.50" y="1108.00" width="10" height="10" fill="#000"/>
<rect x="1307.50" y="1138.00" width="10" height="10" fill="#000"/>
<circle cx="1387.00" cy="1075.00" r="4.6" fill="#fff" stroke="#111" stroke-width="1.9"/>
<rect x="1382.00" y="1109.50" width="10" height="10" fill="#000"/>
<text x="1420.30" y="1082.70" font-family="Liberation Sans, sans-serif" font-size="24" text-anchor="start" stroke="#000" stroke-width="0.35" fill="#000" >Control</text>
<text x="1419.90" y="1122.70" font-family="Liberation Sans, sans-serif" font-size="24" text-anchor="start" stroke="#000" stroke-width="0.35" fill="#000" >DMF</text>
<g transform="translate(0 0) scale(0.08)" fill="#000" stroke="#000" stroke-linejoin="round" stroke-linecap="butt"><path fill-rule="evenodd" stroke-width="8" d="M29,656 L249,39 L351,39 L566,656 L484,656 L430,493 L166,493 L106,656 Z M188,430 L298,124 L408,430 Z"/></g>
<g transform="translate(760 0) scale(0.08)" fill="#000" stroke="#000" stroke-linejoin="round" stroke-linecap="butt"><path fill="none" stroke-width="78" d="M405,621 L244,621 L244,69 L390,69 C497,69 551,122 551,192 C551,275 482,335 395,335 L244,335 M395,335 C522,335 589,395 589,480 C589,568 517,621 405,621"/></g>
<clipPath id="cc"><rect x="0" y="0" width="543" height="900"/></clipPath>
<g transform="translate(0 465) scale(0.08)" fill="#000" stroke="#000" stroke-linejoin="round" stroke-linecap="butt"><path clip-path="url(#cc)" fill="none" stroke-width="84" d="M590,218 C510,166 425,149 360,149 C215,149 131,262 131,430 C131,603 215,713 360,713 C425,713 510,697 590,640"/></g>
<g transform="translate(740 465) scale(0.08)" fill="#000" stroke="#000" stroke-linejoin="round" stroke-linecap="butt"><path fill="none" stroke-width="80" d="M192,710 L192,151 L320,151 C500,151 597,250 597,430 C597,610 500,710 320,710 Z"/></g>
<g transform="translate(0 940) scale(0.08)" fill="#000" stroke="#000" stroke-linejoin="round" stroke-linecap="butt"><path stroke-width="6" d="M95,75 H437 V147 H177 V348 H402 V407 H177 V638 H442 V702 H95 Z"/></g>
<g transform="translate(750 940) scale(0.08)" fill="#000" stroke="#000" stroke-linejoin="round" stroke-linecap="butt"><path stroke-width="6" d="M175,78 H502 V147 H257 V363 H492 V427 H257 V707 H175 Z"/></g>
</svg>
</body></html>
